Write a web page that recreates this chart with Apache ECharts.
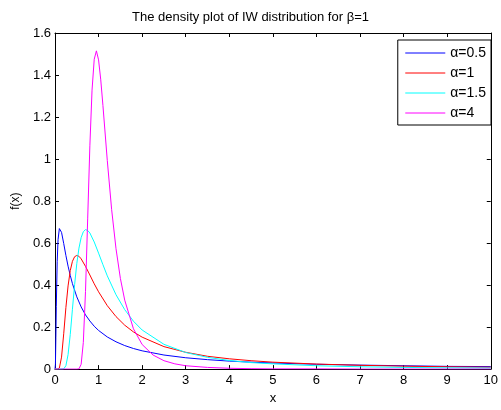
<!DOCTYPE html>
<html>
<head>
<meta charset="utf-8">
<script src="https://cdn.jsdelivr.net/npm/echarts@6/dist/echarts.min.js"></script>
<style>
  html, body { margin: 0; padding: 0; background: #fff; }
  #chart-container { width: 501px; height: 410px; }
</style>
</head>
<body>
<div id="chart-container"></div>
<script>
// values, f(x) for each alpha
const blueX = [0, 0.01, 0.02, 0.03, 0.05, 0.07, 0.1, 0.15, 0.2, 0.25, 0.3, 0.35, 0.4, 0.5, 0.6, 0.7, 0.8, 0.9, 1.0, 1.2, 1.4, 1.6, 1.8, 2.0, 2.5, 3, 3.5, 4, 4.5, 5, 6, 7, 8, 9, 10];
const blueY = [0, 0.023, 0.150, 0.299, 0.511, 0.616, 0.669, 0.651, 0.598, 0.541, 0.490, 0.446, 0.407, 0.344, 0.296, 0.258, 0.229, 0.204, 0.184, 0.153, 0.130, 0.112, 0.098, 0.087, 0.067, 0.054, 0.045, 0.038, 0.033, 0.029, 0.023, 0.019, 0.016, 0.013, 0.012];

const redX = [0, 0.05, 0.1, 0.15, 0.2, 0.25, 0.3, 0.35, 0.4, 0.45, 0.5, 0.55, 0.6, 0.7, 0.8, 0.9, 1.0, 1.2, 1.4, 1.6, 1.8, 2.0, 2.5, 3, 3.5, 4, 4.5, 5, 6, 7, 8, 9, 10];
const redY = [0, 0, 0.005, 0.057, 0.168, 0.293, 0.396, 0.469, 0.513, 0.535, 0.541, 0.537, 0.525, 0.489, 0.448, 0.406, 0.368, 0.302, 0.250, 0.209, 0.177, 0.152, 0.107, 0.080, 0.061, 0.049, 0.040, 0.033, 0.024, 0.018, 0.014, 0.011, 0.009];

const cyanX = [0, 0.1, 0.2, 0.25, 0.3, 0.35, 0.4, 0.45, 0.5, 0.55, 0.6, 0.65, 0.7, 0.75, 0.8, 0.9, 1.0, 1.1, 1.2, 1.4, 1.6, 1.8, 2.0, 2.5, 3, 3.5, 4, 4.5, 5, 6, 7, 8, 9, 10];
const cyanY = [0, 0, 0.001, 0.016, 0.069, 0.165, 0.285, 0.402, 0.502, 0.576, 0.626, 0.654, 0.664, 0.660, 0.648, 0.605, 0.552, 0.497, 0.444, 0.354, 0.283, 0.228, 0.186, 0.118, 0.079, 0.056, 0.041, 0.031, 0.025, 0.016, 0.011, 0.008, 0.006, 0.005];

const magentaX = [0, 0.5, 0.55, 0.6, 0.65, 0.7, 0.75, 0.8, 0.85, 0.9, 0.95, 1.0, 1.05, 1.1, 1.2, 1.3, 1.4, 1.5, 1.6, 1.8, 2.0, 2.25, 2.5, 2.75, 3, 3.5, 4, 4.5, 5, 6, 7, 8, 9, 10];
const magentaY = [0, 0, 0.001, 0.023, 0.127, 0.370, 0.715, 1.063, 1.328, 1.475, 1.515, 1.472, 1.377, 1.255, 0.993, 0.759, 0.573, 0.432, 0.328, 0.192, 0.117, 0.067, 0.040, 0.025, 0.016, 0.008, 0.004, 0.002, 0.001, 0.001, 0, 0, 0, 0];

const legendNames = ['α=0.5', 'α=1', 'α=1.5', 'α=4'];

const font = 'Liberation Sans, Arial, sans-serif';

function zip(xs, ys) {
  return xs.map((x, i) => [x, ys[i]]);
}

function buildSeries(name, color, data) {
  return {
    name,
    type: 'line',
    symbol: 'none',
    xAxisIndex: 0,
    yAxisIndex: 0,
    lineStyle: { color, width: 1 },
    itemStyle: { color },
    animation: false,
    data,
  };
}

// box axes: same scale, ticks pointing in, labels only on bottom/left
function xAxisDef(position, labels) {
  return {
    type: 'value',
    position,
    min: 0,
    max: 10,
    interval: 1,
    axisLine: { show: true, onZero: false, lineStyle: { color: '#000', width: 1 } },
    axisTick: { show: true, inside: true, length: 4, lineStyle: { color: '#000' } },
    axisLabel: { show: labels, color: '#000', fontSize: 13, fontFamily: font, margin: 5 },
    splitLine: { show: false },
    name: labels ? 'x' : '',
    nameLocation: 'middle',
    nameGap: 21,
    nameTextStyle: { color: '#000', fontSize: 13, fontFamily: font },
  };
}

function yAxisDef(position, labels) {
  return {
    type: 'value',
    position,
    min: 0,
    max: 1.6,
    interval: 0.2,
    axisLine: { show: true, onZero: false, lineStyle: { color: '#000', width: 1 } },
    axisTick: { show: true, inside: true, length: 4, lineStyle: { color: '#000' } },
    axisLabel: { show: labels, color: '#000', fontSize: 13, fontFamily: font, margin: 4 },
    splitLine: { show: false },
    name: labels ? 'f(x)' : '',
    nameLocation: 'middle',
    nameGap: 33,
    nameTextStyle: { color: '#000', fontSize: 12, fontFamily: font },
  };
}

let option = {
  backgroundColor: '#fff',
  animation: false,
  title: {
    text: 'The density plot of IW distribution for β=1',
    left: 'center',
    top: 11,
    padding: 0,
    textStyle: { color: '#000', fontSize: 13, fontWeight: 'normal', fontFamily: font },
  },
  grid: { left: 55, right: 6, top: 33, bottom: 32, containLabel: false },
  legend: {
    data: legendNames,
    orient: 'vertical',
    right: 10,
    top: 40,
    backgroundColor: '#fff',
    borderColor: '#000',
    borderWidth: 1,
    borderRadius: 0,
    padding: [6, 5, 5, 7],
    itemWidth: 40,
    itemHeight: 14,
    itemGap: 6,
    itemStyle: { opacity: 0 },
    lineStyle: { width: 1 },
    textStyle: { color: '#000', fontSize: 14, fontFamily: font },
  },
  xAxis: [xAxisDef('bottom', true), xAxisDef('top', false)],
  yAxis: [yAxisDef('left', true), yAxisDef('right', false)],
  series: [
    buildSeries(legendNames[0], '#0000ff', zip(blueX, blueY)),
    buildSeries(legendNames[1], '#ff0000', zip(redX, redY)),
    buildSeries(legendNames[2], '#00ffff', zip(cyanX, cyanY)),
    buildSeries(legendNames[3], '#ff00ff', zip(magentaX, magentaY)),
  ],
};

var myChart = echarts.init(document.getElementById('chart-container'));
myChart.setOption(option);
</script>
</body>
</html>
